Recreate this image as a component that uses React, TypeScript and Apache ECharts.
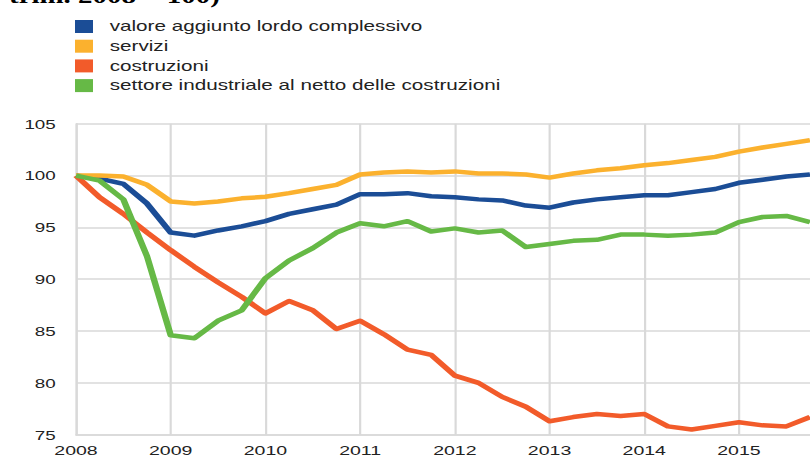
import React, { useEffect, useRef } from "react";
import * as echarts from "echarts";

// ---- data (quarterly, index 1st quarter 2008 = 100) ----
const startYear = 2008;
const quartersPerYear = 4;
const seriesNames = [
  "valore aggiunto lordo complessivo",
  "servizi",
  "costruzioni",
  "settore industriale al netto delle costruzioni",
];
const valoreAggiunto = [
  100, 99.7, 99.2, 97.3, 94.5, 94.2, 94.7, 95.1, 95.6, 96.3, 96.75, 97.2, 98.2, 98.2, 98.3, 98.0,
  97.9, 97.7, 97.6, 97.1, 96.9, 97.4, 97.7, 97.9, 98.1, 98.1, 98.4, 98.7, 99.3, 99.6, 99.9, 100.1,
];
const servizi = [
  100, 100, 99.9, 99.1, 97.5, 97.3, 97.5, 97.8, 97.95, 98.3, 98.7, 99.1, 100.1, 100.3, 100.4, 100.3,
  100.4, 100.2, 100.2, 100.1, 99.8, 100.2, 100.5, 100.7, 101.0, 101.2, 101.5, 101.8, 102.3, 102.7, 103.05, 103.4,
];
const costruzioni = [
  100, 97.9, 96.3, 94.5, 92.8, 91.2, 89.7, 88.3, 86.7, 87.9, 87.0, 85.2, 86.0, 84.7, 83.2, 82.7,
  80.7, 80.0, 78.65, 77.7, 76.3, 76.7, 77.0, 76.8, 77.0, 75.8, 75.5, 75.85, 76.2, 75.9, 75.8, 76.7,
];
const industria = [
  100, 99.5, 97.7, 92.2, 84.6, 84.3, 86.0, 87.0, 90.1, 91.8, 93.0, 94.5, 95.4, 95.1, 95.6, 94.6,
  94.9, 94.5, 94.7, 93.1, 93.4, 93.7, 93.8, 94.3, 94.3, 94.2, 94.3, 94.5, 95.5, 96.0, 96.1, 95.5,
];
const seriesColors = ["#1b4d96", "#fbb12e", "#f25b2a", "#66b946"];
const yTicks = { min: 75, max: 105, interval: 5 };
const titleText = "(indici: 1° trim. 2008 = 100)";

const categories = valoreAggiunto.map(
  (_, i) => `${startYear + Math.floor(i / quartersPerYear)}-T${(i % quartersPerYear) + 1}`
);

// horizontal stretch of the whole picture (reference is stretched)
const W = 560;
const S = 810 / W;
const H = 463;

export default function App() {
  const ref = useRef<HTMLDivElement>(null);
  useEffect(() => {
    document.body.style.margin = "0";
    const chart = echarts.init(ref.current!, undefined, { renderer: "svg" });
    const font = "'Liberation Sans', Arial, sans-serif";
    const gridColor = "#d9d9d9";
    const allData = [valoreAggiunto, servizi, costruzioni, industria];
    chart.setOption({
      animation: false,
      backgroundColor: "#ffffff",
      graphic: [
        {
          type: "text",
          x: 152,
          y: 6.5,
          style: {
            text: titleText,
            font: "bold 20px 'Liberation Serif', 'Times New Roman', serif",
            fill: "#000",
            align: "right",
            verticalAlign: "bottom",
          },
        },
      ],
      legend: {
        orient: "vertical",
        left: 75 / S,
        top: 19.5,
        padding: 0,
        itemWidth: 18 / S,
        itemHeight: 13,
        itemGap: 5.7,
        icon: "rect",
        selectedMode: false,
        data: seriesNames,
        textStyle: {
          fontFamily: font,
          fontSize: 14.3,
          color: "#222",
          lineHeight: 13,
          padding: [0, 0, 0, 16.7 / S - 5],
        },
      },
      grid: {
        left: 76 / S,
        right: 0,
        top: 123.7,
        bottom: H - 434.7,
        containLabel: false,
      },
      xAxis: {
        type: "category",
        data: categories,
        boundaryGap: false,
        axisLine: { show: true, lineStyle: { color: gridColor, width: 1.5 } },
        axisTick: { show: false },
        axisLabel: {
          interval: quartersPerYear - 1,
          formatter: (v: string) => v.slice(0, 4),
          fontFamily: font,
          fontSize: 13.5,
          color: "#222",
          margin: 9,
        },
        splitLine: {
          show: true,
          interval: quartersPerYear - 1,
          lineStyle: { color: gridColor, width: 1.5 },
        },
      },
      yAxis: {
        type: "value",
        min: yTicks.min,
        max: yTicks.max,
        interval: yTicks.interval,
        axisLine: { show: true, lineStyle: { color: gridColor, width: 1.5 } },
        axisTick: { show: false },
        axisLabel: {
          fontFamily: font,
          fontSize: 13,
          color: "#222",
          margin: 14,
        },
        splitLine: { show: true, lineStyle: { color: gridColor, width: 1.5 } },
      },
      series: seriesNames.map((name, k) => ({
        name,
        type: "line",
        data: allData[k],
        showSymbol: false,
        symbol: "none",
        smooth: false,
        color: seriesColors[k],
        lineStyle: { width: 4.5, color: seriesColors[k], join: "round" },
        clip: true,
      })),
    });
    return () => chart.dispose();
  }, []);
  return (
    <div
      style={{
        position: "fixed",
        left: 0,
        top: 0,
        width: 810,
        height: H,
        overflow: "hidden",
        background: "#fff",
      }}
    >
      <div
        ref={ref}
        style={{
          width: W,
          height: H,
          transform: `scaleX(${S})`,
          transformOrigin: "0 0",
        }}
      />
    </div>
  );
}
